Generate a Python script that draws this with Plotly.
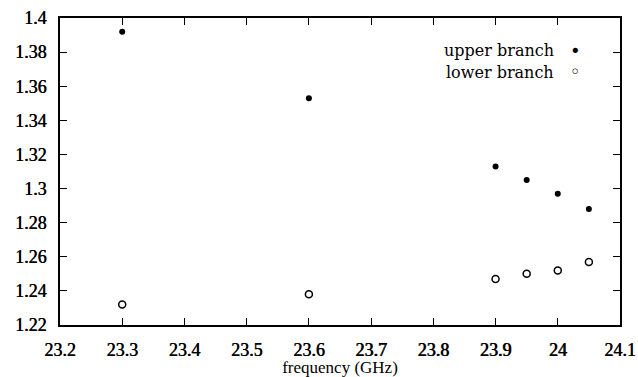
import plotly.graph_objects as go

freq = [23.3, 23.6, 23.9, 23.95, 24.0, 24.05]
upper = [1.392, 1.353, 1.313, 1.305, 1.297, 1.288]
lower = [1.232, 1.238, 1.247, 1.250, 1.252, 1.257]

xticks = [23.2, 23.3, 23.4, 23.5, 23.6, 23.7, 23.8, 23.9, 24.0, 24.1]
xtick_labels = ["23.2", "23.3", "23.4", "23.5", "23.6", "23.7", "23.8", "23.9", "24", "24.1"]
yticks = [1.22, 1.24, 1.26, 1.28, 1.30, 1.32, 1.34, 1.36, 1.38, 1.40]
ytick_labels = ["1.22", "1.24", "1.26", "1.28", "1.3", "1.32", "1.34", "1.36", "1.38", "1.4"]

tick_font = "Liberation Serif"
title_font = "Liberation Serif"
legend_font = "DejaVu Serif"

fig = go.Figure()
fig.add_trace(go.Scatter(x=freq, y=upper, mode="markers", name="upper branch",
                         marker=dict(symbol="circle", size=6, color="black")))
fig.add_trace(go.Scatter(x=freq, y=lower, mode="markers", name="lower branch",
                         marker=dict(symbol="circle-open", size=7, color="black",
                                     line=dict(width=1.5, color="black"))))

axis_common = dict(showgrid=False, zeroline=False, showline=True, linecolor="black",
                   linewidth=2, mirror="allticks", ticks="inside", ticklen=7,
                   tickcolor="black", tickwidth=1.2, automargin=False,
                   ticklabeloverflow="allow",
                   tickfont=dict(family=tick_font, size=18, color="black",
                                 shadow="0.6px 0px 0px black"))

fig.update_xaxes(range=[23.2, 24.1], tickvals=xticks, ticktext=xtick_labels,
                 ticklabelstandoff=7,
                 title=dict(text="frequency (GHz)", font=dict(family=title_font, size=17, color="black"),
                            standoff=0),
                 **axis_common)
fig.update_yaxes(range=[1.22, 1.40], tickvals=yticks, ticktext=ytick_labels,
                 ticklabelstandoff=8, **axis_common)

# legend as annotations (text right-aligned, symbol to the right)
fig.add_annotation(xref="paper", yref="paper", x=0.886, y=0.893, xanchor="right", yanchor="middle",
                   text="upper branch", showarrow=False,
                   font=dict(family=legend_font, size=16, color="black"))
fig.add_annotation(xref="paper", yref="paper", x=0.886, y=0.821, xanchor="right", yanchor="middle",
                   text="lower branch", showarrow=False,
                   font=dict(family=legend_font, size=16, color="black"))
fig.add_annotation(xref="paper", yref="paper", x=0.921, y=0.893, xanchor="center", yanchor="middle",
                   text="•", showarrow=False, font=dict(family="DejaVu Sans", size=18, color="black"))
fig.add_annotation(xref="paper", yref="paper", x=0.921, y=0.827, xanchor="center", yanchor="middle",
                   text="◦", showarrow=False, font=dict(family="DejaVu Sans", size=18, color="black"))

fig.update_layout(width=638, height=377, showlegend=False,
                  margin=dict(l=60, r=18, t=18, b=52),
                  plot_bgcolor="white", paper_bgcolor="white")

fig.write_html("out.html", config={"displayModeBar": False},
               post_script="document.documentElement.style.margin='0';document.body.style.margin='0';document.body.style.padding='0';")
